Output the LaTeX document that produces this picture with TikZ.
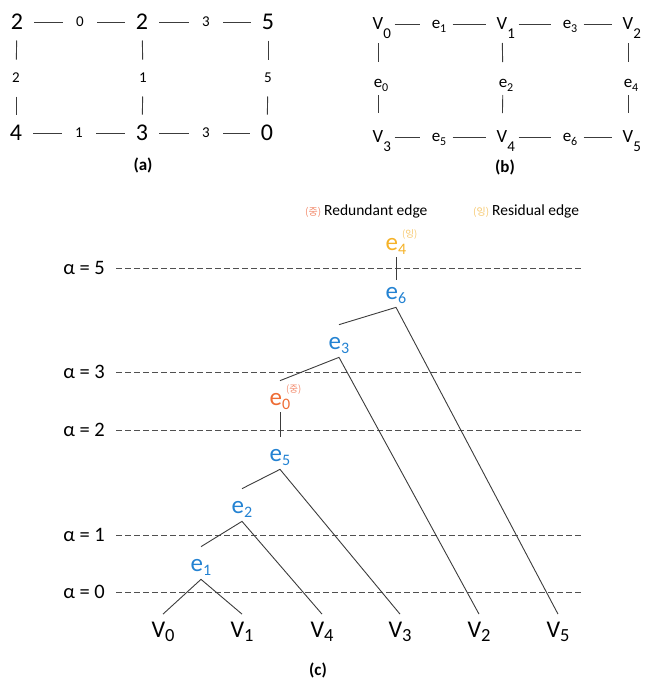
\documentclass[tikz,border=0pt]{standalone}
\usepackage{fontspec}
\setmainfont{Carlito}
\newfontfamily\kofont{Noto Sans CJK KR}
\usepackage{xcolor}
\usepackage{tikz}
\usetikzlibrary{positioning, calc}
\definecolor{inkgray}{RGB}{60, 60, 60}
\definecolor{guidegray}{RGB}{80, 80, 80}
\definecolor{edgeblue}{RGB}{35, 130, 210}
\definecolor{redund}{RGB}{238, 108, 52}
\definecolor{redundL}{RGB}{242, 140, 110}
\definecolor{resid}{RGB}{245, 178, 40}
\definecolor{residL}{RGB}{246, 200, 110}
\newcommand{\fsz}[1]{\fontsize{#1}{#1}\selectfont}
\newcommand{\lowsub}[3]{\smash{\raisebox{-#1}{\fsz{#2}#3}}}
\newcommand{\hidsub}[3]{\rlap{\lowsub{#1}{#2}{#3}}}
\newcommand{\tagsup}[2]{\rlap{\smash{\hspace{4pt}\raisebox{13pt}{\kofont\fsz{9.5}\color{#1}(#2)}}}}
\tikzset{
  big/.style={inner sep=0pt, font=\fsz{24}},
  wt/.style={inner sep=0pt, font=\fsz{15}},
  vx/.style={inner sep=0pt, font=\fsz{18.6}},
  ed/.style={inner sep=0pt, font=\fsz{17}},
  plab/.style={inner sep=0pt, font=\fsz{17}\bfseries},
  link/.style={draw=inkgray, line width=0.9pt, shorten <=#1, shorten >=#1},
  link/.default=17pt,
  vtop/.style={draw=inkgray, line width=0.9pt, shorten <=19pt, shorten >=21pt},
  vbot/.style={draw=inkgray, line width=0.9pt, shorten <=12pt, shorten >=24pt},
  te/.style={inner sep=0pt, font=\fsz{25}, text=#1},
  te/.default=edgeblue,
  tv/.style={inner sep=0pt, font=\fsz{24}},
  alf/.style={anchor=east, inner sep=0pt, font=\fsz{20.5}},
  guide/.style={draw=guidegray, line width=0.8pt, dash pattern=on 6pt off 3pt, shorten <=11pt},
  arm/.style={draw=inkgray, line width=0.9pt},
  lgd/.style={anchor=base west, inner sep=0pt, font=\fsz{15.5}},
}
\begin{document}
\begin{tikzpicture}[x=1pt, y=-1pt]
  \useasboundingbox (0,0) rectangle (652,681);
  % (a) weighted grid
  \node[big] (a0) at (17,22) {2};
  \node[wt] (wa01) at (80,22) {0};
  \node[big] (a1) at (142,22) {2};
  \node[wt] (wa12) at (206,22) {3};
  \node[big] (a2) at (268,22) {5};
  \node[wt] (wa03) at (16,78) {2};
  \node[wt] (wa14) at (143,78) {1};
  \node[wt] (wa25) at (268,78) {5};
  \node[big] (a3) at (16,133) {4};
  \node[wt] (wa34) at (79,133) {1};
  \node[big] (a4) at (142,133) {3};
  \node[wt] (wa45) at (206,133) {3};
  \node[big] (a5) at (267,133) {0};
  \draw[link] (a0.center) -- (wa01.center);
  \draw[link] (wa01.center) -- (a1.center);
  \draw[link] (a1.center) -- (wa12.center);
  \draw[link] (wa12.center) -- (a2.center);
  \draw[link] (a3.center) -- (wa34.center);
  \draw[link] (wa34.center) -- (a4.center);
  \draw[link] (a4.center) -- (wa45.center);
  \draw[link] (wa45.center) -- (a5.center);
  \draw[link=18.5pt] (a0.center) -- (wa03.center);
  \draw[link=18.5pt] (wa03.center) -- (a3.center);
  \draw[link=18.5pt] (a1.center) -- (wa14.center);
  \draw[link=18.5pt] (wa14.center) -- (a4.center);
  \draw[link=18.5pt] (a2.center) -- (wa25.center);
  \draw[link=18.5pt] (wa25.center) -- (a5.center);
  \node[plab] (capa) at (143,165) {(a)};
  % (b) vertex / edge names
  \node[vx] (v0) at (378,24) {V\hidsub{9pt}{15}{0}};
  \node[ed] (b1) at (436,24) {e\hidsub{4pt}{12}{1}};
  \node[vx] (v1) at (502,24) {V\hidsub{9pt}{15}{1}};
  \node[ed] (b3) at (567,24) {e\hidsub{4pt}{12}{3}};
  \node[vx] (v2) at (628,24) {V\hidsub{9pt}{15}{2}};
  \node[ed] (b0) at (378,83) {e\hidsub{4pt}{12}{0}};
  \node[ed] (b2) at (503,83) {e\hidsub{4pt}{12}{2}};
  \node[ed] (b4) at (628,83) {e\hidsub{4pt}{12}{4}};
  \node[vx] (v3) at (378,137) {V\hidsub{9pt}{15}{3}};
  \node[ed] (b5) at (436,137) {e\hidsub{4pt}{12}{5}};
  \node[vx] (v4) at (502,137) {V\hidsub{9pt}{15}{4}};
  \node[ed] (b6) at (567,137) {e\hidsub{4pt}{12}{6}};
  \node[vx] (v5) at (628,137) {V\hidsub{9pt}{15}{5}};
  \draw[link=16.5pt] (v0.center) -- (b1.center);
  \draw[link=16.5pt] (b1.center) -- (v1.center);
  \draw[link=16.5pt] (v1.center) -- (b3.center);
  \draw[link=16.5pt] (b3.center) -- (v2.center);
  \draw[link=16.5pt] (v3.center) -- (b5.center);
  \draw[link=16.5pt] (b5.center) -- (v4.center);
  \draw[link=16.5pt] (v4.center) -- (b6.center);
  \draw[link=16.5pt] (b6.center) -- (v5.center);
  \draw[vtop] (v0.center) -- (b0.center);
  \draw[vbot] (b0.center) -- (v3.center);
  \draw[vtop] (v1.center) -- (b2.center);
  \draw[vbot] (b2.center) -- (v4.center);
  \draw[vtop] (v2.center) -- (b4.center);
  \draw[vbot] (b4.center) -- (v5.center);
  \node[plab] (capb) at (505,167) {(b)};
  % (c) legend
  \node[lgd] (lgr) at (305,215) {{\kofont\fsz{10}\color{redundL}(중)}\hspace{3pt}Redundant edge};
  \node[lgd] (lgs) at (473,215) {{\kofont\fsz{10}\color{residL}(잉)}\hspace{3pt}Residual edge};
  % alpha levels
  \node[alf] (al5) at (105,268) {α = 5};
  \node[alf] (al3) at (105,372) {α = 3};
  \node[alf] (al2) at (105,430) {α = 2};
  \node[alf] (al1) at (105,535) {α = 1};
  \node[alf] (al0) at (105,592) {α = 0};
  \coordinate (r5) at (583,268);
  \coordinate (r3) at (583,372);
  \coordinate (r2) at (583,430);
  \coordinate (r1) at (583,535);
  \coordinate (r0) at (583,592);
  \draw[guide] (al5.east) -- (r5);
  \draw[guide] (al3.east) -- (r3);
  \draw[guide] (al2.east) -- (r2);
  \draw[guide] (al1.east) -- (r1);
  \draw[guide] (al0.east) -- (r0);
  % merge tree
  \node[te=resid] (t4) at (396,245) {e\tagsup{residL}{잉}\lowsub{3.3pt}{16}{4}};
  \node[te] (t6) at (396,294) {e\lowsub{3.3pt}{16}{6}};
  \node[te] (t3) at (339,344) {e\lowsub{3.3pt}{16}{3}};
  \node[te=redund] (t0) at (280,400) {e\tagsup{redundL}{중}\lowsub{3.3pt}{16}{0}};
  \node[te] (t5) at (280,456) {e\lowsub{3.3pt}{16}{5}};
  \node[te] (t2) at (242,508) {e\lowsub{3.3pt}{16}{2}};
  \node[te] (t1) at (201,566) {e\lowsub{3.3pt}{16}{1}};
  \node[tv] (l0) at (163,630) {V\lowsub{3.3pt}{18.5}{0}};
  \node[tv] (l1) at (242,630) {V\lowsub{3.3pt}{18.5}{1}};
  \node[tv] (l4) at (322,630) {V\lowsub{3.3pt}{18.5}{4}};
  \node[tv] (l3) at (400,630) {V\lowsub{3.3pt}{18.5}{3}};
  \node[tv] (l2) at (479,630) {V\lowsub{3.3pt}{18.5}{2}};
  \node[tv] (l5) at (558,630) {V\lowsub{3.3pt}{18.5}{5}};
  \draw[arm] ([yshift=-6pt]t4.south) -- ([yshift=8pt]t6.north);
  \draw[arm] ([yshift=13pt]t3.north) -- ([yshift=-7pt]t6.south) -- ([yshift=8pt]l5.north);
  \draw[arm] ([yshift=13pt]t0.north) -- ([yshift=-7pt]t3.south) -- ([yshift=8pt]l2.north);
  \draw[arm] ([yshift=-6pt]t0.south) -- ([yshift=13pt]t5.north);
  \draw[arm] ([yshift=13pt]t2.north) -- ([yshift=-7pt]t5.south) -- ([yshift=8pt]l3.north);
  \draw[arm] ([yshift=13pt]t1.north) -- ([yshift=-7pt]t2.south) -- ([yshift=8pt]l4.north);
  \draw[arm] ([yshift=8pt]l0.north) -- ([yshift=-7pt]t1.south) -- ([yshift=8pt]l1.north);
  \node[plab] (capc) at (318,670) {(c)};
\end{tikzpicture}
\end{document}
